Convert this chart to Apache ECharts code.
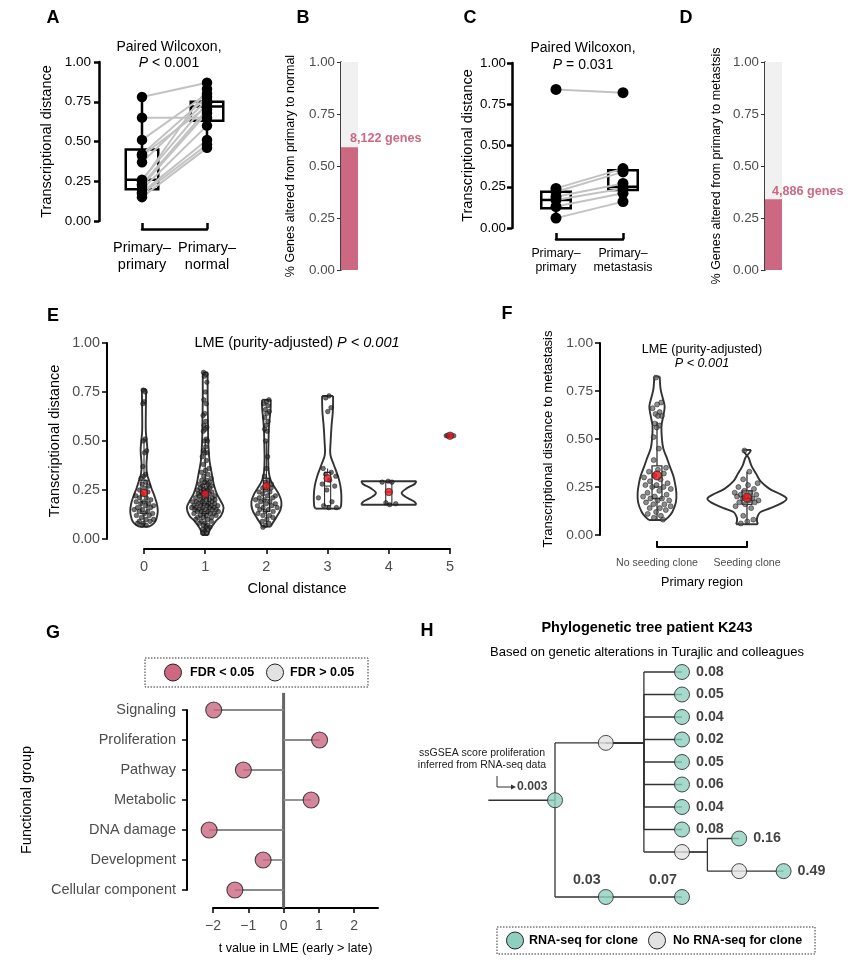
<!DOCTYPE html>
<html>
<head>
<meta charset="utf-8">
<script src="https://cdn.jsdelivr.net/npm/echarts@6.0.0/dist/echarts.min.js"></script>
<style>
html,body{margin:0;padding:0;background:#ffffff;}
#chart{width:865px;height:964px;}
</style>
</head>
<body>
<div id="chart"></div>
<script>
// ================= DATA =================
const yTicks = [0, 0.25, 0.5, 0.75, 1];

// ---- Panel A ----
const aCategories = ['Primary–\nprimary', 'Primary–\nnormal'];
const aPrimaryPrimary = [0.78, 0.65, 0.51, 0.42, 0.41, 0.37, 0.26, 0.25, 0.23, 0.22, 0.20, 0.18, 0.17, 0.15];
const aPrimaryNormal  = [0.87, 0.65, 0.80, 0.78, 0.72, 0.76, 0.74, 0.83, 0.70, 0.68, 0.60, 0.51, 0.48, 0.46];
const aBoxStats = [[0.15, 0.20, 0.26, 0.45, 0.78], [0.46, 0.63, 0.72, 0.75, 0.87]]; // lo, q1, median, q3, hi
const aTitle = ['Paired Wilcoxon,', 'P', ' < 0.001'];

// ---- Panel B ----
const bFraction = [0.59];
const bLabel = ['8,122 genes'];
const bAxisName = '% Genes altered from primary to normal';

// ---- Panel C ----
const cCategories = ['Primary–\nprimary', 'Primary–\nmetastasis'];
const cPrimaryPrimary    = [0.84, 0.24, 0.22, 0.19, 0.17, 0.13, 0.06];
const cPrimaryMetastasis = [0.82, 0.36, 0.34, 0.27, 0.24, 0.21, 0.16];
const cBoxStats = [[0.06, 0.12, 0.17, 0.22, 0.24], [0.16, 0.23, 0.25, 0.35, 0.36]];
const cTitle = ['Paired Wilcoxon,', 'P', ' = 0.031'];

// ---- Panel D ----
const dFraction = [0.34];
const dLabel = ['4,886 genes'];
const dAxisName = '% Genes altered from primary to metastsis';

// ---- Panel E ----
const eCategories = [0, 1, 2, 3, 4, 5];
const eGroup0 = [0.76,0.75,0.70,0.69,0.51,0.50,0.45,0.44,0.37,0.33,0.32,0.31,0.29,0.28,0.27,0.26,0.25,0.24,0.23,0.22,0.21,0.21,0.20,0.19,0.19,0.18,0.18,0.17,0.17,0.16,0.16,0.15,0.15,0.14,0.14,0.13,0.13,0.12,0.12,0.11,0.10,0.10,0.09,0.09,0.08,0.08,0.07,0.07];
const eGroup1 = [0.85,0.84,0.83,0.80,0.75,0.71,0.69,0.64,0.63,0.60,0.58,0.57,0.56,0.55,0.51,0.50,0.50,0.47,0.45,0.44,0.44,0.42,0.40,0.38,0.36,0.35,0.34,0.33,0.32,0.31,0.30,0.30,0.29,0.29,0.28,0.28,0.27,0.27,0.26,0.26,0.26,0.25,0.25,0.25,0.24,0.24,0.24,0.23,0.23,0.23,0.22,0.22,0.22,0.21,0.21,0.21,0.20,0.20,0.20,0.20,0.19,0.19,0.19,0.19,0.18,0.18,0.18,0.18,0.17,0.17,0.17,0.17,0.17,0.16,0.16,0.16,0.16,0.16,0.15,0.15,0.15,0.15,0.15,0.14,0.14,0.14,0.14,0.13,0.13,0.13,0.13,0.12,0.12,0.12,0.11,0.11,0.11,0.10,0.10,0.09,0.09,0.08,0.08,0.07,0.07,0.06,0.06,0.05,0.05,0.04,0.03,0.03];
const eGroup2 = [0.71,0.70,0.69,0.68,0.66,0.65,0.64,0.62,0.60,0.58,0.56,0.55,0.50,0.42,0.36,0.32,0.30,0.29,0.28,0.27,0.26,0.26,0.25,0.24,0.24,0.23,0.22,0.22,0.21,0.21,0.20,0.20,0.19,0.19,0.18,0.18,0.17,0.17,0.16,0.16,0.15,0.15,0.14,0.14,0.13,0.12,0.12,0.11,0.10,0.09,0.08,0.07,0.06];
const eGroup3 = [0.73,0.72,0.67,0.65,0.36,0.34,0.33,0.32,0.30,0.28,0.27,0.25,0.21,0.19,0.17,0.16,0.16];
const eGroup4 = [0.295,0.29,0.29,0.185,0.18,0.175];
const eGroup5 = [0.527,0.527,0.527,0.527];
const eMeans = [0.235, 0.23, 0.27, 0.31, 0.24, 0.527];
// violin outlines: [distance, half-width in clonal-distance units]
const eViolin0 = [[0.063,0.08],[0.08,0.16],[0.10,0.20],[0.14,0.225],[0.18,0.21],[0.22,0.17],[0.26,0.12],[0.30,0.08],[0.33,0.05],[0.38,0.04],[0.45,0.055],[0.50,0.045],[0.55,0.03],[0.65,0.03],[0.765,0.035]];
const eViolin1 = [[0.02,0.05],[0.05,0.08],[0.09,0.17],[0.12,0.26],[0.16,0.30],[0.19,0.26],[0.23,0.19],[0.28,0.14],[0.33,0.11],[0.40,0.07],[0.50,0.05],[0.60,0.045],[0.70,0.04],[0.85,0.04]];
const eViolin2 = [[0.063,0.07],[0.08,0.10],[0.11,0.16],[0.15,0.23],[0.19,0.245],[0.23,0.20],[0.27,0.12],[0.30,0.07],[0.34,0.04],[0.40,0.03],[0.50,0.035],[0.56,0.04],[0.62,0.055],[0.67,0.07],[0.71,0.07]];
const eViolin3 = [[0.155,0.20],[0.17,0.22],[0.22,0.225],[0.27,0.21],[0.32,0.17],[0.38,0.10],[0.43,0.045],[0.50,0.05],[0.58,0.065],[0.65,0.085],[0.73,0.09]];
const eViolin4 = [[0.175,0.45],[0.19,0.42],[0.21,0.30],[0.235,0.21],[0.26,0.30],[0.28,0.42],[0.295,0.45]];
const eBoxStats = [[0.065,0.13,0.19,0.30,0.51],[0.02,0.13,0.18,0.28,0.50],[0.063,0.14,0.20,0.31,0.50],[0.155,0.17,0.27,0.34,0.36],[0.175,0.18,0.24,0.29,0.295]];
const eTitle = ['LME (purity-adjusted) ', 'P < 0.001'];

// ---- Panel F ----
const fCategories = ['No seeding clone', 'Seeding clone'];
const fNoSeeding = [0.82,0.69,0.68,0.66,0.64,0.63,0.62,0.62,0.58,0.57,0.56,0.51,0.45,0.39,0.35,0.34,0.33,0.32,0.31,0.30,0.29,0.28,0.27,0.26,0.26,0.25,0.25,0.24,0.23,0.22,0.21,0.20,0.20,0.19,0.19,0.18,0.18,0.17,0.16,0.16,0.15,0.14,0.14,0.13,0.12,0.11,0.10,0.09,0.08];
const fSeeding = [0.44,0.33,0.29,0.27,0.26,0.25,0.24,0.23,0.22,0.22,0.21,0.21,0.20,0.20,0.19,0.19,0.18,0.18,0.17,0.17,0.16,0.15,0.14,0.10,0.08,0.07,0.06];
const fMeans = [0.31, 0.195];
const fViolin0 = [[0.078,0.09],[0.09,0.12],[0.12,0.17],[0.17,0.21],[0.22,0.215],[0.27,0.20],[0.31,0.18],[0.36,0.14],[0.40,0.11],[0.45,0.07],[0.50,0.055],[0.57,0.05],[0.62,0.07],[0.67,0.085],[0.72,0.06],[0.76,0.04],[0.825,0.03]];
const fViolin1 = [[0.056,0.12],[0.08,0.11],[0.10,0.12],[0.12,0.15],[0.14,0.26],[0.17,0.40],[0.19,0.44],[0.21,0.38],[0.24,0.25],[0.28,0.15],[0.32,0.10],[0.36,0.05],[0.40,0.02],[0.415,0.005],[0.43,0.03],[0.443,0.045]];
const fBoxStats = [[0.08,0.19,0.25,0.36,0.59],[0.056,0.16,0.19,0.23,0.33]];
const fTitle = ['LME (purity-adjusted)', 'P < 0.001'];

// ---- Panel G ----
const gCategories = ['Signaling', 'Proliferation', 'Pathway', 'Metabolic', 'DNA damage', 'Development', 'Cellular component'];
const gTValues = [-1.98, 1.02, -1.14, 0.78, -2.11, -0.58, -1.38];
const gXTicks = [-2, -1, 0, 1, 2];
const gLegend = ['FDR < 0.05', 'FDR > 0.05'];

// ---- Panel H ----
const hNodes = [
  {id:'root', parent:null,   x:1.0, y:5.7,  score:'0.003', rna:true},
  {id:'n1',   parent:'root', x:1.8, y:3.15, score:null,    rna:false},
  {id:'c1',   parent:'n1',   x:3.0, y:0,    score:'0.08',  rna:true},
  {id:'c2',   parent:'n1',   x:3.0, y:1,    score:'0.05',  rna:true},
  {id:'c3',   parent:'n1',   x:3.0, y:2,    score:'0.04',  rna:true},
  {id:'c4',   parent:'n1',   x:3.0, y:3,    score:'0.02',  rna:true},
  {id:'c5',   parent:'n1',   x:3.0, y:4,    score:'0.05',  rna:true},
  {id:'c6',   parent:'n1',   x:3.0, y:5,    score:'0.06',  rna:true},
  {id:'c7',   parent:'n1',   x:3.0, y:6,    score:'0.04',  rna:true},
  {id:'c8',   parent:'n1',   x:3.0, y:7,    score:'0.08',  rna:true},
  {id:'n2',   parent:'n1',   x:3.0, y:8,    score:null,    rna:false},
  {id:'c9',   parent:'n2',   x:3.9, y:7.4,  score:'0.16',  rna:true},
  {id:'n3',   parent:'n2',   x:3.9, y:8.85, score:null,    rna:false},
  {id:'c10',  parent:'n3',   x:4.6, y:8.85, score:'0.49',  rna:true},
  {id:'b1',   parent:'root', x:1.8, y:10,   score:'0.03',  rna:true},
  {id:'b2',   parent:'b1',   x:3.0, y:10,   score:'0.07',  rna:true}
];
const hBranchPoints = {root:1.0, n1:2.4, n2:3.4};
const hStemStart = -0.05;
const hLegend = ['RNA-seq for clone', 'No RNA-seq for clone'];
const hTitle = 'Phylogenetic tree patient K243';
const hSubtitle = 'Based on genetic alterations in Turajlic and colleagues';
const hNote = ['ssGSEA score proliferation', 'inferred from RNA-seq data'];

// ================= STYLE / HELPERS =================
const FONT = '"Liberation Sans", Arial, Helvetica, sans-serif';
const PINK = '#cc6882';
const TEAL = '#8fcfbf';
const LIGHT = '#e2e2e2';
const GTXT = '#4d4d4d';

function hwAt(outline, y) {
  if (!outline) return 0.1;
  if (y <= outline[0][0]) return outline[0][1];
  for (let k = 1; k < outline.length; k++) {
    if (y <= outline[k][0]) {
      const a = outline[k - 1], b = outline[k];
      const t = (y - a[0]) / (b[0] - a[0]);
      return a[1] + t * (b[1] - a[1]);
    }
  }
  return outline[outline.length - 1][1];
}
function jit(i) { const f = (i * 0.6180339887 + 0.27) % 1; return f * 2 - 1; }

function jitterPoints(groups, outlines, caps, xs) {
  const out = [];
  groups.forEach((vals, g) => {
    vals.forEach((v, i) => {
      const w = Math.min(hwAt(outlines[g], v) * 0.8, caps[g]);
      out.push([xs[g] + jit(i + g * 11) * w, v]);
    });
  });
  return out;
}

function yAxisUnit(o) {
  return {
    type: 'value', gridIndex: o.grid, min: 0, max: 1, interval: 0.25, offset: o.offset,
    axisLine: {show: true, onZero: false, lineStyle: {color: '#000', width: o.lw}},
    axisTick: {show: true, length: o.tl || 5, customValues: yTicks, lineStyle: {color: o.tickColor || '#000', width: o.tw || o.lw}},
    axisLabel: {show: true, customValues: yTicks, formatter: v => v.toFixed(2), fontSize: o.fs, color: o.color, margin: o.margin, fontFamily: FONT},
    splitLine: {show: false},
    name: o.name, nameLocation: 'middle', nameGap: o.gap,
    nameTextStyle: {fontSize: o.nfs, color: '#000', fontFamily: FONT}
  };
}

function boxRender(bw, lw, stroke, fill) {
  return function (params, api) {
    const x = api.value(0);
    const lo = api.value(1), q1 = api.value(2), med = api.value(3), q3 = api.value(4), hi = api.value(5);
    const a = api.coord([x, lo]), b = api.coord([x, q1]), c = api.coord([x, q3]), d = api.coord([x, hi]);
    const tl = api.coord([x - bw, q3]), br = api.coord([x + bw, q1]);
    const mL = api.coord([x - bw, med]), mR = api.coord([x + bw, med]);
    const st = {stroke: stroke, lineWidth: lw, fill: null};
    return {type: 'group', children: [
      {type: 'line', shape: {x1: a[0], y1: a[1], x2: b[0], y2: b[1]}, style: st},
      {type: 'line', shape: {x1: c[0], y1: c[1], x2: d[0], y2: d[1]}, style: st},
      {type: 'rect', shape: {x: tl[0], y: tl[1], width: br[0] - tl[0], height: br[1] - tl[1]}, style: {stroke: stroke, lineWidth: lw, fill: fill}},
      {type: 'line', shape: {x1: mL[0], y1: mL[1], x2: mR[0], y2: mR[1]}, style: st}
    ]};
  };
}

function violinRender(outlines) {
  return function (params, api) {
    const g = api.value(0);
    const o = outlines[params.dataIndex];
    if (!o) return;
    const right = o.map(p => api.coord([g + p[1], p[0]]));
    const left = o.map(p => api.coord([g - p[1], p[0]]));
    const n = o.length - 1;
    const st = {stroke: '#333', lineWidth: 1.9, fill: null};
    return {type: 'group', children: [
      {type: 'polyline', shape: {points: right, smooth: 0.35}, style: st},
      {type: 'polyline', shape: {points: left, smooth: 0.35}, style: st},
      {type: 'line', shape: {x1: left[0][0], y1: left[0][1], x2: right[0][0], y2: right[0][1]}, style: st},
      {type: 'line', shape: {x1: left[n][0], y1: left[n][1], x2: right[n][0], y2: right[n][1]}, style: st}
    ]};
  };
}

function pairRender(params, api) {
  const a = api.coord([0, api.value(0)]), b = api.coord([1, api.value(1)]);
  return {type: 'line', shape: {x1: a[0], y1: a[1], x2: b[0], y2: b[1]}, style: {stroke: '#c2c2c2', lineWidth: 2}};
}

function catAxisBracket(o) {
  return {
    type: 'value', gridIndex: o.grid, min: o.min, max: o.max, interval: 1, offset: o.offset,
    axisLine: {show: true, onZero: false, lineStyle: {color: '#000', width: o.lw}},
    axisTick: {show: true, inside: true, length: 6, lineStyle: {color: '#000', width: o.lw}},
    axisLabel: {show: true, formatter: o.fmt, fontSize: o.fs, color: o.color, margin: o.margin, lineHeight: o.lh, fontFamily: FONT},
    splitLine: {show: false},
    name: o.name || '', nameLocation: 'middle', nameGap: o.gap || 0,
    nameTextStyle: {fontSize: o.nfs || 12, color: '#000', fontFamily: FONT}
  };
}

// ================= OPTION =================
const grids = [
  {left: 142, top: 62, width: 65, height: 159},     // A
  {left: 341, top: 62, width: 17, height: 208},     // B
  {left: 556, top: 63, width: 67, height: 165},     // C
  {left: 765, top: 62, width: 17, height: 208},     // D
  {left: 144, top: 343, width: 306, height: 196},   // E
  {left: 657, top: 343, width: 90, height: 192},    // F
  {left: 213, top: 710, width: 165, height: 180},   // G
  {left: 491.5, top: 672, width: 317.5, height: 225} // H
].map(g => Object.assign(g, {outerBoundsMode: 'none', containLabel: false}));

const xAxes = [
  catAxisBracket({grid: 0, min: 0, max: 1, offset: 8, lw: 2.5, fmt: v => aCategories[v] || '', fs: 14.5, color: '#000', margin: 10, lh: 17}),
  {type: 'category', gridIndex: 1, data: ['B'], show: false},
  catAxisBracket({grid: 2, min: 0, max: 1, offset: 11, lw: 2.5, fmt: v => cCategories[v] || '', fs: 12.3, color: '#000', margin: 8, lh: 14}),
  {type: 'category', gridIndex: 3, data: ['D'], show: false},
  {
    type: 'value', gridIndex: 4, min: 0, max: 5, interval: 1, offset: 10,
    axisLine: {show: true, onZero: false, lineStyle: {color: '#000', width: 2}},
    axisTick: {show: true, length: 5, lineStyle: {color: '#000', width: 1.5}},
    axisLabel: {show: true, formatter: v => String(eCategories[v]), fontSize: 14.5, color: GTXT, margin: 10, fontFamily: FONT},
    splitLine: {show: false},
    name: 'Clonal distance', nameLocation: 'middle', nameGap: 32,
    nameTextStyle: {fontSize: 14.5, color: '#000', fontFamily: FONT}
  },
  catAxisBracket({grid: 5, min: 1, max: 2, offset: 12, lw: 2, fmt: v => fCategories[v - 1] || '', fs: 10.6, color: GTXT, margin: 10, lh: 12, name: 'Primary region', gap: 29, nfs: 12.6}),
  {
    type: 'value', gridIndex: 6, min: -2, max: 2.675, interval: 1, offset: 18,
    axisLine: {show: true, onZero: false, lineStyle: {color: '#000', width: 2}},
    axisTick: {show: true, length: 5, customValues: gXTicks, lineStyle: {color: '#000', width: 1.5}},
    axisLabel: {show: true, customValues: gXTicks, formatter: v => (v < 0 ? '−' + Math.abs(v) : String(v)), fontSize: 14, color: GTXT, margin: 11, fontFamily: FONT},
    splitLine: {show: false},
    name: 't value in LME (early > late)', nameLocation: 'middle', nameGap: 34,
    nameTextStyle: {fontSize: 12.6, color: '#000', fontFamily: FONT}
  },
  {type: 'value', gridIndex: 7, min: 0, max: 5, show: false}
];

const yAxes = [
  yAxisUnit({grid: 0, offset: 43, lw: 2.5, fs: 13.5, color: '#000', margin: 8, name: 'Transcriptional distance', gap: 45, nfs: 14.5}),
  yAxisUnit({grid: 1, offset: 0, lw: 1.5, tw: 1, tl: 4, tickColor: '#333', fs: 13.3, color: GTXT, margin: 6, name: bAxisName, gap: 44, nfs: 12.5}),
  yAxisUnit({grid: 2, offset: 44, lw: 2.5, fs: 13.3, color: '#000', margin: 6, name: 'Transcriptional distance', gap: 37, nfs: 14.5}),
  yAxisUnit({grid: 3, offset: 0, lw: 1.5, tw: 1, tl: 4, tickColor: '#333', fs: 13.3, color: GTXT, margin: 6, name: dAxisName, gap: 42, nfs: 12.5}),
  yAxisUnit({grid: 4, offset: 37, lw: 2, tw: 1.5, fs: 14.3, color: GTXT, margin: 7, name: 'Transcriptional distance', gap: 45, nfs: 14.5}),
  yAxisUnit({grid: 5, offset: 57, lw: 2, tw: 1.5, fs: 13.7, color: GTXT, margin: 7, name: 'Transcriptional distance to metastasis', gap: 45, nfs: 13}),
  {
    type: 'value', gridIndex: 6, min: 0, max: 6, interval: 1, inverse: true, offset: 26,
    axisLine: {show: true, onZero: false, lineStyle: {color: '#000', width: 2}},
    axisTick: {show: true, length: 5, lineStyle: {color: '#000', width: 1.5}},
    axisLabel: {show: true, formatter: v => gCategories[v] || '', fontSize: 14.5, color: GTXT, margin: 11, fontFamily: FONT},
    splitLine: {show: false},
    name: 'Functional group', nameLocation: 'middle', nameGap: 153,
    nameTextStyle: {fontSize: 14.5, color: '#000', fontFamily: FONT}
  },
  {type: 'value', gridIndex: 7, min: 0, max: 10, inverse: true, show: false}
];

// ---- series ----
const series = [];
// A
series.push({type: 'custom', xAxisIndex: 0, yAxisIndex: 0, clip: false, renderItem: boxRender(0.25, 2.5, '#000', null),
  data: aBoxStats.map((b, i) => [i].concat(b)), z: 2});
series.push({type: 'custom', xAxisIndex: 0, yAxisIndex: 0, clip: false, renderItem: pairRender,
  data: aPrimaryPrimary.map((v, i) => [v, aPrimaryNormal[i]]), z: 3});
series.push({type: 'scatter', xAxisIndex: 0, yAxisIndex: 0, clip: false, symbolSize: 10.5, itemStyle: {color: '#000', opacity: 1},
  data: aPrimaryPrimary.map(v => [0, v]).concat(aPrimaryNormal.map(v => [1, v])), z: 4});
// B
series.push({type: 'bar', xAxisIndex: 1, yAxisIndex: 1, data: bFraction, barWidth: '100%',
  itemStyle: {color: PINK}, showBackground: true, backgroundStyle: {color: '#f1f1f1'},
  label: {show: true, formatter: () => bLabel[0], position: [9, -9], align: 'left', verticalAlign: 'middle', color: PINK, fontWeight: 'bold', fontSize: 12.6, fontFamily: FONT}});
// C
series.push({type: 'custom', xAxisIndex: 2, yAxisIndex: 2, clip: false, renderItem: boxRender(0.22, 2.5, '#000', null),
  data: cBoxStats.map((b, i) => [i].concat(b)), z: 2});
series.push({type: 'custom', xAxisIndex: 2, yAxisIndex: 2, clip: false, renderItem: pairRender,
  data: cPrimaryPrimary.map((v, i) => [v, cPrimaryMetastasis[i]]), z: 3});
series.push({type: 'scatter', xAxisIndex: 2, yAxisIndex: 2, clip: false, symbolSize: 11, itemStyle: {color: '#000', opacity: 1},
  data: cPrimaryPrimary.map(v => [0, v]).concat(cPrimaryMetastasis.map(v => [1, v])), z: 4});
// D
series.push({type: 'bar', xAxisIndex: 3, yAxisIndex: 3, data: dFraction, barWidth: '100%',
  itemStyle: {color: PINK}, showBackground: true, backgroundStyle: {color: '#f1f1f1'},
  label: {show: true, formatter: () => dLabel[0], position: [7, -8], align: 'left', verticalAlign: 'middle', color: PINK, fontWeight: 'bold', fontSize: 12.6, fontFamily: FONT}});
// E
const eOutlines = [eViolin0, eViolin1, eViolin2, eViolin3, eViolin4];
const eGroups = [eGroup0, eGroup1, eGroup2, eGroup3, eGroup4, eGroup5];
series.push({type: 'custom', xAxisIndex: 4, yAxisIndex: 4, clip: false, renderItem: violinRender(eOutlines),
  data: eOutlines.map((o, i) => [eCategories[i], 0]), z: 2});
series.push({type: 'custom', xAxisIndex: 4, yAxisIndex: 4, clip: false, renderItem: boxRender(0.05, 1.1, '#333', '#fff'),
  data: eBoxStats.map((b, i) => [eCategories[i]].concat(b)), z: 3});
series.push({type: 'scatter', xAxisIndex: 4, yAxisIndex: 4, clip: false, symbolSize: 4.6,
  itemStyle: {color: 'rgba(45,45,45,0.85)', borderColor: '#000', borderWidth: 0.5},
  data: jitterPoints(eGroups, eOutlines, [0.24, 0.3, 0.25, 0.2, 0.13, 0.12], eCategories), z: 4});
series.push({type: 'scatter', xAxisIndex: 4, yAxisIndex: 4, clip: false, symbolSize: 7.5,
  itemStyle: {color: '#e8141c', borderColor: '#222', borderWidth: 0.8},
  data: eMeans.map((m, i) => [eCategories[i], m]), z: 5});
// F
const fOutlines = [fViolin0, fViolin1];
series.push({type: 'custom', xAxisIndex: 5, yAxisIndex: 5, clip: false, renderItem: violinRender(fOutlines),
  data: fOutlines.map((o, i) => [i + 1, 0]), z: 2});
series.push({type: 'custom', xAxisIndex: 5, yAxisIndex: 5, clip: false, renderItem: boxRender(0.055, 1.3, '#333', '#fff'),
  data: fBoxStats.map((b, i) => [i + 1].concat(b)), z: 3});
series.push({type: 'scatter', xAxisIndex: 5, yAxisIndex: 5, clip: false, symbolSize: 5,
  itemStyle: {color: 'rgba(90,90,90,0.85)', borderColor: '#111', borderWidth: 0.6},
  data: jitterPoints([fNoSeeding, fSeeding], fOutlines, [0.2, 0.14], [1, 2]), z: 4});
series.push({type: 'scatter', xAxisIndex: 5, yAxisIndex: 5, clip: false, symbolSize: 9,
  itemStyle: {color: '#e8141c', borderColor: '#222', borderWidth: 1},
  data: fMeans.map((m, i) => [i + 1, m]), z: 5});
// G
series.push({type: 'custom', xAxisIndex: 6, yAxisIndex: 6, clip: false, z: 2,
  data: [[0, 0]],
  renderItem: function (params, api) {
    const a = api.coord([0, -0.57]), b = api.coord([0, 6.6]);
    return {type: 'line', shape: {x1: a[0], y1: a[1], x2: b[0], y2: b[1]}, style: {stroke: '#666', lineWidth: 3}};
  }});
series.push({type: 'custom', xAxisIndex: 6, yAxisIndex: 6, clip: false, z: 3,
  data: gTValues.map((v, i) => [v, i]),
  renderItem: function (params, api) {
    const a = api.coord([0, api.value(1)]), b = api.coord([api.value(0), api.value(1)]);
    return {type: 'line', shape: {x1: a[0], y1: a[1], x2: b[0], y2: b[1]}, style: {stroke: '#8a8a8a', lineWidth: 1.8}};
  }});
series.push({type: 'scatter', xAxisIndex: 6, yAxisIndex: 6, clip: false, symbolSize: 16, z: 4,
  itemStyle: {color: PINK, borderColor: '#222', borderWidth: 1.1},
  data: gTValues.map((v, i) => [v, i])});
// H
const hById = {};
hNodes.forEach(n => { hById[n.id] = n; });
const hEdgeItems = hNodes.map((n, i) => [n.x, n.y, i]);
series.push({type: 'custom', xAxisIndex: 7, yAxisIndex: 7, clip: false, z: 2,
  data: hEdgeItems,
  renderItem: function (params, api) {
    const n = hNodes[params.dataIndex];
    const st = {stroke: '#333', lineWidth: 1.3, fill: null};
    const kids = [];
    const L = (p, q) => { const a = api.coord(p), b = api.coord(q); kids.push({type: 'line', shape: {x1: a[0], y1: a[1], x2: b[0], y2: b[1]}, style: st}); };
    if (!n.parent) {
      L([hStemStart, n.y], [n.x, n.y]);
    } else {
      const p = hById[n.parent];
      const e = (hBranchPoints[p.id] !== undefined) ? hBranchPoints[p.id] : p.x;
      if (e !== p.x) L([p.x, p.y], [e, p.y]);
      if (p.y !== n.y) L([e, p.y], [e, n.y]);
      L([e, n.y], [n.x, n.y]);
    }
    return {type: 'group', children: kids};
  }});
function hLabel(n) {
  if (!n.score) return {show: false};
  const base = {show: true, formatter: n.score, fontWeight: 'bold', color: '#111', fontFamily: FONT};
  if (!n.parent) return Object.assign(base, {position: [0.5, -5.5], align: 'right', verticalAlign: 'middle', fontSize: 12.2});
  let p = n, lower = false;
  while (p) { if (p.id === 'b1') lower = true; p = hById[p.parent]; }
  if (lower) return Object.assign(base, {position: 'top', distance: 2, offset: [-19, 0], fontSize: 14.3});
  return Object.assign(base, {position: 'right', distance: 6, fontSize: 14.3});
}
series.push({type: 'scatter', xAxisIndex: 7, yAxisIndex: 7, clip: false, symbolSize: 15, z: 4,
  data: hNodes.map(n => ({value: [n.x, n.y], itemStyle: {color: n.rna ? TEAL : LIGHT, borderColor: '#222', borderWidth: 1}, label: hLabel(n)}))});

// ---- graphic: titles, panel letters, legends, annotation ----
function txt(x, y, text, size, opts) {
  return {type: 'text', x: x, y: y, z: 10, style: Object.assign({text: text, fontSize: size, fontFamily: FONT, fill: '#000', align: 'center', verticalAlign: 'middle'}, opts || {})};
}
function richTitle(x, y, plain, italic, size) {
  return {type: 'text', x: x, y: y, z: 10, style: {
    text: '{n|' + plain + '}{i|' + italic + '}', align: 'center', verticalAlign: 'middle', fontSize: size, fontFamily: FONT, fill: '#000',
    rich: {n: {fontSize: size, fontFamily: FONT, fill: '#000'}, i: {fontSize: size, fontFamily: FONT, fontStyle: 'italic', fill: '#000'}}}};
}
function richP(x, y, italic, rest, size) {
  return {type: 'text', x: x, y: y, z: 10, style: {
    text: '{i|' + italic + '}{n|' + rest + '}', align: 'center', verticalAlign: 'middle', fontSize: size, fontFamily: FONT, fill: '#000',
    rich: {n: {fontSize: size, fontFamily: FONT, fill: '#000'}, i: {fontSize: size, fontFamily: FONT, fontStyle: 'italic', fill: '#000'}}}};
}
const letterStyle = {fontWeight: 'bold'};
const graphics = [
  txt(53, 18, 'A', 18, letterStyle), txt(303, 18, 'B', 18, letterStyle), txt(470, 18, 'C', 18, letterStyle), txt(686, 18, 'D', 18, letterStyle),
  txt(53, 316, 'E', 18, letterStyle), txt(507, 314, 'F', 18, letterStyle), txt(53, 633, 'G', 18, letterStyle), txt(427, 631, 'H', 18, letterStyle),
  txt(169, 47, aTitle[0], 14), richP(169, 63, aTitle[1], aTitle[2], 14),
  txt(583, 48, cTitle[0], 14), richP(583, 65, cTitle[1], cTitle[2], 14),
  richTitle(297, 343, eTitle[0], eTitle[1], 14.5),
  txt(702, 350, fTitle[0], 12.6), txt(702, 363, fTitle[1], 12.6, {fontStyle: 'italic'}),
  // G legend
  {type: 'rect', z: 10, shape: {x: 145, y: 658, width: 223, height: 29}, style: {fill: '#fff', stroke: '#333', lineWidth: 1, lineDash: [1.5, 1.5]}},
  {type: 'circle', z: 11, shape: {cx: 173, cy: 672.5, r: 8.5}, style: {fill: PINK, stroke: '#222', lineWidth: 1}},
  txt(190, 672.5, gLegend[0], 12.5, {fontWeight: 'bold', align: 'left'}),
  {type: 'circle', z: 11, shape: {cx: 275, cy: 672.5, r: 8.5}, style: {fill: LIGHT, stroke: '#222', lineWidth: 1}},
  txt(290, 672.5, gLegend[1], 12.5, {fontWeight: 'bold', align: 'left'}),
  // H titles
  txt(647, 628, hTitle, 14.5, {fontWeight: 'bold'}),
  txt(647, 652, hSubtitle, 13),
  // H annotation
  txt(482, 753, hNote[0], 10.5, {fill: '#222'}), txt(482, 765, hNote[1], 10.5, {fill: '#222'}),
  {type: 'polyline', z: 10, shape: {points: [[497, 776], [497, 787], [511, 787]]}, style: {stroke: '#333', lineWidth: 1, fill: null}},
  {type: 'polygon', z: 10, shape: {points: [[511, 784.5], [516, 787], [511, 789.5]]}, style: {fill: '#333'}},
  // H legend
  {type: 'rect', z: 10, shape: {x: 497, y: 927, width: 318, height: 27}, style: {fill: '#fff', stroke: '#333', lineWidth: 1, lineDash: [1.5, 1.5]}},
  {type: 'circle', z: 11, shape: {cx: 515, cy: 940.5, r: 8.5}, style: {fill: TEAL, stroke: '#222', lineWidth: 1}},
  txt(529, 940.5, hLegend[0], 12.5, {fontWeight: 'bold', align: 'left'}),
  {type: 'circle', z: 11, shape: {cx: 657, cy: 940.5, r: 8.5}, style: {fill: LIGHT, stroke: '#222', lineWidth: 1}},
  txt(673, 940.5, hLegend[1], 12.5, {fontWeight: 'bold', align: 'left'})
];

const option = {
  animation: false,
  backgroundColor: '#ffffff',
  textStyle: {fontFamily: FONT},
  grid: grids,
  xAxis: xAxes,
  yAxis: yAxes,
  series: series,
  graphic: {elements: graphics}
};

const chart = echarts.init(document.getElementById('chart'), null, {renderer: 'canvas', width: 865, height: 964});
chart.setOption(option);
</script>
</body>
</html>
